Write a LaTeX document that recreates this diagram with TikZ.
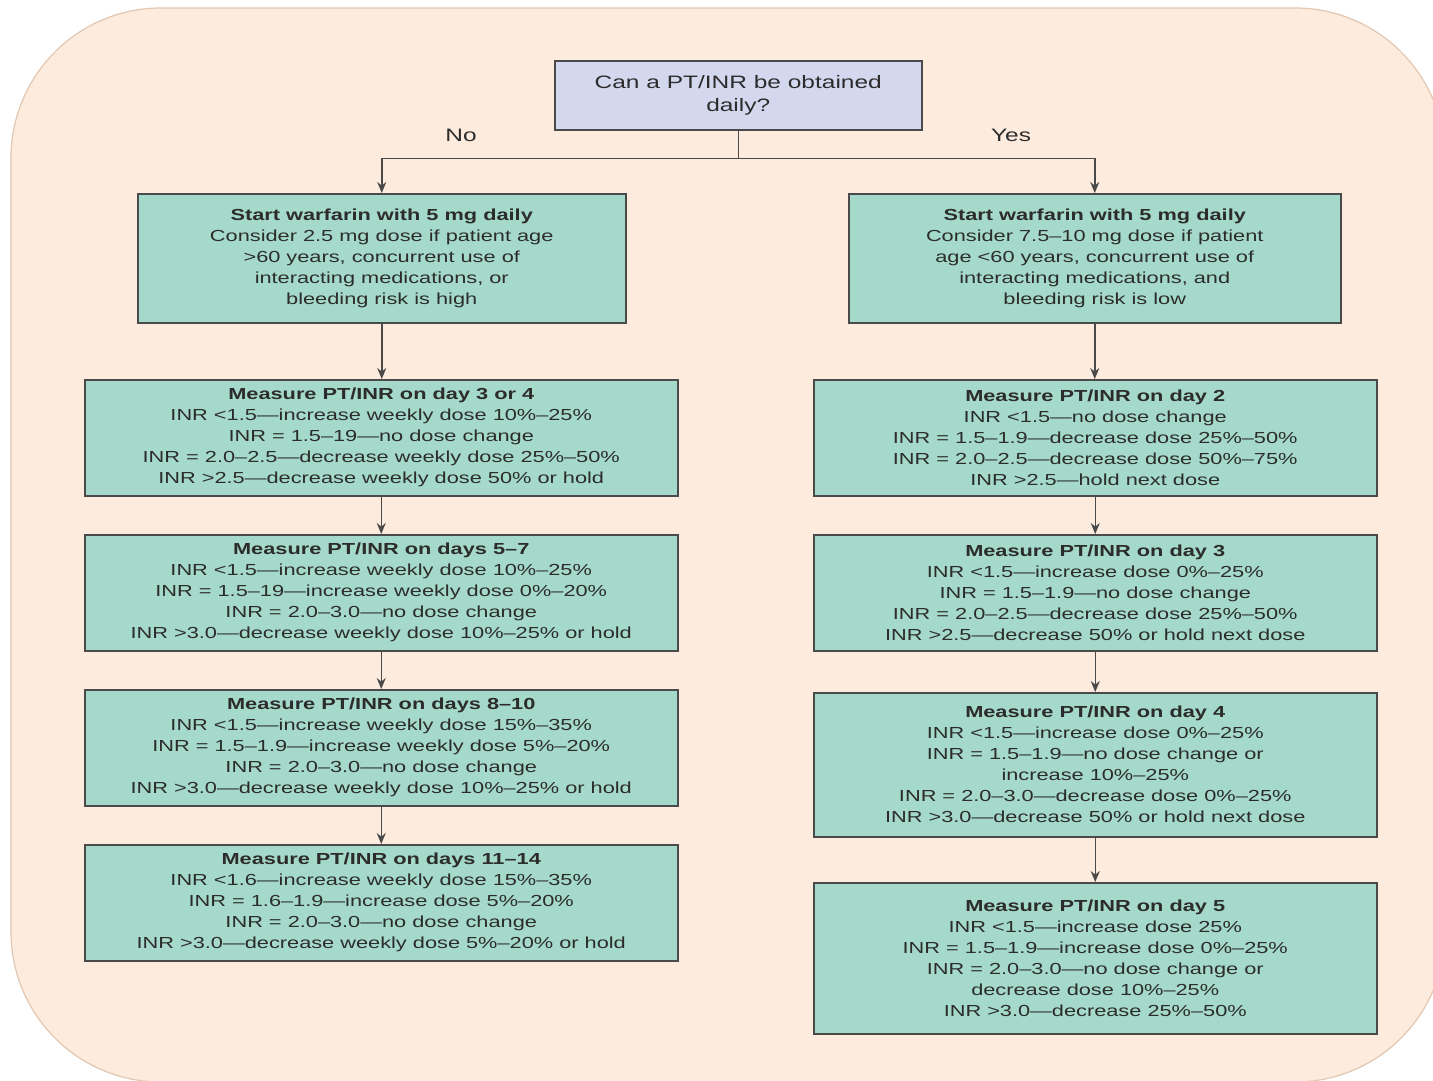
\documentclass[tikz,border=0pt]{standalone}
\usepackage{fontspec}
\setmainfont{Liberation Sans}
\newfontfamily\bodyfont[FakeStretch=1.36]{Liberation Sans}
\usetikzlibrary{arrows.meta,calc}
\definecolor{peach}{HTML}{FDEBDD}
\definecolor{peachline}{HTML}{E2C7B2}
\definecolor{boxteal}{HTML}{A5DACB}
\definecolor{boxlav}{HTML}{D4D8EF}
\definecolor{boxline}{HTML}{4A4A4A}
\definecolor{txt}{HTML}{2C2C2C}
\begin{document}
\begin{tikzpicture}[x=1pt,y=-1pt,
  box/.style={draw=boxline, line width=1.5pt, fill=boxteal, anchor=north west, align=center,
    inner sep=0pt, text=txt, font=\bodyfont\fontsize{16}{21}\selectfont},
  qbox/.style={box, fill=boxlav, font=\bodyfont\fontsize{18}{23}\selectfont},
  lbl/.style={text=txt, font=\bodyfont\fontsize{18}{22}\selectfont, inner sep=0pt},
  conn/.style={draw=boxline, line width=1.5pt, -{Stealth[length=11pt,width=9pt]}},
  plain/.style={draw=boxline, line width=1.5pt}]
\useasboundingbox (0,0) rectangle (1433,1080);
\fill[white] (0,0) rectangle (1433,1080);
\filldraw[fill=peach, draw=peachline, line width=1.2pt, rounded corners=150pt] (11,8) rectangle (1445,1082);

\node[qbox, minimum width=367pt, minimum height=69pt] (q) at (554,60)
  {Can a PT/INR be obtained\\daily?};
\node[lbl] (no) at (461,135) {No};
\node[lbl] (yes) at (1011,135) {Yes};

\node[box, minimum width=488pt, minimum height=129pt] (L1) at (137,193)
  {\textbf{Start warfarin with 5 mg daily}\\Consider 2.5 mg dose if patient age\\>60 years, concurrent use of\\interacting medications, or\\bleeding risk is high};
\node[box, minimum width=492pt, minimum height=129pt] (R1) at (848,193)
  {\textbf{Start warfarin with 5 mg daily}\\Consider 7.5–10 mg dose if patient\\age <60 years, concurrent use of\\interacting medications, and\\bleeding risk is low};

\node[box, minimum width=593pt, minimum height=116pt] (L2) at (84,379)
  {\textbf{Measure PT/INR on day 3 or 4}\\INR <1.5—increase weekly dose 10\%–25\%\\INR = 1.5–19—no dose change\\INR = 2.0–2.5—decrease weekly dose 25\%–50\%\\INR >2.5—decrease weekly dose 50\% or hold};
\node[box, minimum width=593pt, minimum height=116pt] (L3) at (84,534)
  {\textbf{Measure PT/INR on days 5–7}\\INR <1.5—increase weekly dose 10\%–25\%\\INR = 1.5–19—increase weekly dose 0\%–20\%\\INR = 2.0–3.0—no dose change\\INR >3.0—decrease weekly dose 10\%–25\% or hold};
\node[box, minimum width=593pt, minimum height=116pt] (L4) at (84,689)
  {\textbf{Measure PT/INR on days 8–10}\\INR <1.5—increase weekly dose 15\%–35\%\\INR = 1.5–1.9—increase weekly dose 5\%–20\%\\INR = 2.0–3.0—no dose change\\INR >3.0—decrease weekly dose 10\%–25\% or hold};
\node[box, minimum width=593pt, minimum height=116pt] (L5) at (84,844)
  {\textbf{Measure PT/INR on days 11–14}\\INR <1.6—increase weekly dose 15\%–35\%\\INR = 1.6–1.9—increase dose 5\%–20\%\\INR = 2.0–3.0—no dose change\\INR >3.0—decrease weekly dose 5\%–20\% or hold};

\node[box, minimum width=563pt, minimum height=116pt] (R2) at (813,379)
  {\textbf{Measure PT/INR on day 2}\\INR <1.5—no dose change\\INR = 1.5–1.9—decrease dose 25\%–50\%\\INR = 2.0–2.5—decrease dose 50\%–75\%\\INR >2.5—hold next dose};
\node[box, minimum width=563pt, minimum height=116pt] (R3) at (813,534)
  {\textbf{Measure PT/INR on day 3}\\INR <1.5—increase dose 0\%–25\%\\INR = 1.5–1.9—no dose change\\INR = 2.0–2.5—decrease dose 25\%–50\%\\INR >2.5—decrease 50\% or hold next dose};
\node[box, minimum width=563pt, minimum height=144pt] (R4) at (813,692)
  {\textbf{Measure PT/INR on day 4}\\INR <1.5—increase dose 0\%–25\%\\INR = 1.5–1.9—no dose change or\\increase 10\%–25\%\\INR = 2.0–3.0—decrease dose 0\%–25\%\\INR >3.0—decrease 50\% or hold next dose};
\node[box, minimum width=563pt, minimum height=151pt] (R5) at (813,882)
  {\textbf{Measure PT/INR on day 5}\\INR <1.5—increase dose 25\%\\INR = 1.5–1.9—increase dose 0\%–25\%\\INR = 2.0–3.0—no dose change or\\decrease dose 10\%–25\%\\INR >3.0—decrease 25\%–50\%};

\coordinate (split) at ($(q.south)+(0,28)$);
\draw[plain] (q.south) -- (split);
\draw[conn] (split) -| (L1.north);
\draw[conn] (split) -| (R1.north);
\draw[conn] (L1.south) -- (L1.south |- L2.north);
\draw[conn] (L2.south) -- (L3.north);
\draw[conn] (L3.south) -- (L4.north);
\draw[conn] (L4.south) -- (L5.north);
\draw[conn] (R1.south) -- (R1.south |- R2.north);
\draw[conn] (R2.south) -- (R3.north);
\draw[conn] (R3.south) -- (R3.south |- R4.north);
\draw[conn] (R4.south) -- (R4.south |- R5.north);
\end{tikzpicture}
\end{document}
